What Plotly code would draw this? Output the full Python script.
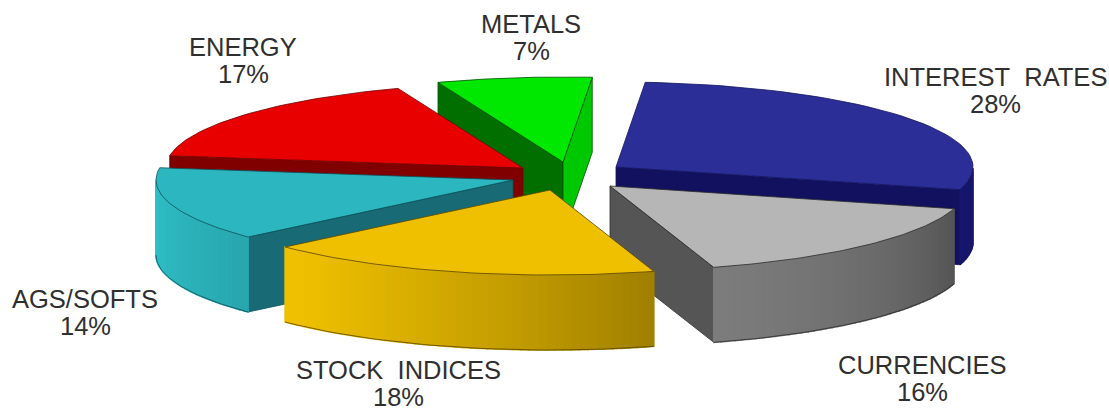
import math
import plotly.graph_objects as go

# Portfolio allocation by sector, clockwise from the first slice
categories = ["INTEREST RATES", "CURRENCIES", "STOCK INDICES", "AGS/SOFTS", "ENERGY", "METALS"]
shares = [28, 16, 18, 14, 17, 7]

# Exploded slice tips, label anchors and colours
tips = [(616, 167), (610, 186), (550, 190), (513, 180), (523, 168), (563, 162)]
label_xy = [(995, 77), (922, 365), (398, 370), (85, 299), (243, 47), (531, 24)]
top_colors = ["#2a2e96", "#b6b6b6", "#efc000", "#2bb6c0", "#e80000", "#00e800"]
wall_colors = ["#11115f", "#555555", "#a88500", "#186a74", "#800000", "#006f00"]
metal_side_color = "#00c800"
rim_start = ["#16166c", "#7c7c7c", "#efc000", "#30c2ca", "#900000", "#00c000"]
rim_end = ["#14145e", "#555555", "#a08000", "#29a6ae", "#900000", "#00c000"]
edge_colors = ["#14145e", "#2c2c2c", "#5a4500", "#0d5058", "#700000", "#005000"]

# Tilted-disc projection of the pie
START_DEG = 4.7
RX, RY, DEPTH = 357, 85, 75
draw_order = [5, 4, 0, 1, 3, 2]

fig = go.Figure()


def rim_point(tip, deg, drop=0):
    a = math.radians(deg)
    return tip[0] + RX * math.sin(a), tip[1] - RY * math.cos(a) + drop


def polygon(points, fill, line=None, width=0.8):
    xs = [p[0] for p in points] + [points[0][0]]
    ys = [p[1] for p in points] + [points[0][1]]
    fig.add_trace(go.Scatter(
        x=xs, y=ys, mode="lines", fill="toself", fillcolor=fill,
        line=dict(color=line or fill, width=width if line else 1.6),
        hoverinfo="skip", showlegend=False,
    ))


def mix(c1, c2, f):
    a = [int(c1[i:i + 2], 16) for i in (1, 3, 5)]
    b = [int(c2[i:i + 2], 16) for i in (1, 3, 5)]
    return "#" + "".join(f"{round(x + (y - x) * f):02x}" for x, y in zip(a, b))


# Slice extents follow directly from the shares
spans = []
angle = START_DEG
for s in shares:
    spans.append((angle, angle + s * 3.6))
    angle += s * 3.6

for i in draw_order:
    t0, t1 = spans[i]
    tip = tips[i]
    edge = edge_colors[i]

    # Flat cut walls that face the viewer
    for deg, facing in ((t0, math.sin(math.radians(t0)) < 0), (t1, math.sin(math.radians(t1)) > 0)):
        if facing:
            shade = metal_side_color if (i == 5 and deg == t1) else wall_colors[i]
            polygon([tip, rim_point(tip, deg), rim_point(tip, deg, DEPTH),
                     (tip[0], tip[1] + DEPTH)], shade, edge)

    # Curved outer wall on the near half, darkening towards the clockwise start
    steps = 48
    degs = [t0 + (t1 - t0) * k / steps for k in range(steps + 1)]
    for k in range(steps):
        d0, d1 = degs[k], degs[k + 1]
        if math.cos(math.radians((d0 + d1) / 2)) > 0:
            continue
        f = (1 - k / (steps - 1)) ** 1.3
        polygon([rim_point(tip, d0), rim_point(tip, d1),
                 rim_point(tip, d1, DEPTH), rim_point(tip, d0, DEPTH)],
                mix(rim_start[i], rim_end[i], f))

    # Outline along the bottom of the outer wall
    front = [d for d in degs if math.cos(math.radians(d)) <= 0]
    if front:
        bottom = [rim_point(tip, d, DEPTH) for d in front]
        fig.add_trace(go.Scatter(
            x=[p[0] for p in bottom], y=[p[1] for p in bottom], mode="lines",
            line=dict(color=edge, width=0.8), hoverinfo="skip", showlegend=False,
        ))

    # Top face of the slice
    polygon([tip] + [rim_point(tip, d) for d in degs], top_colors[i], edge)

# Two-line sector labels
annotations = []
for name, share, (lx, ly) in zip(categories, shares, label_xy):
    for text, y in ((name.replace(" ", "\u00a0\u00a0"), ly), (f"{share}%", ly + 27)):
        annotations.append(dict(
            x=lx, y=y, text=text, showarrow=False, xanchor="center", yanchor="middle",
            font=dict(family="Liberation Sans", size=25.5, color="#2f2f2f"),
        ))

fig.update_layout(
    width=1109, height=412, margin=dict(l=0, r=0, t=0, b=0),
    paper_bgcolor="white", plot_bgcolor="white", showlegend=False,
    xaxis=dict(range=[0, 1109], visible=False, fixedrange=True),
    yaxis=dict(range=[412, 0], visible=False, fixedrange=True),
    annotations=annotations,
)

fig.write_html("out.html", config={"displayModeBar": False})
